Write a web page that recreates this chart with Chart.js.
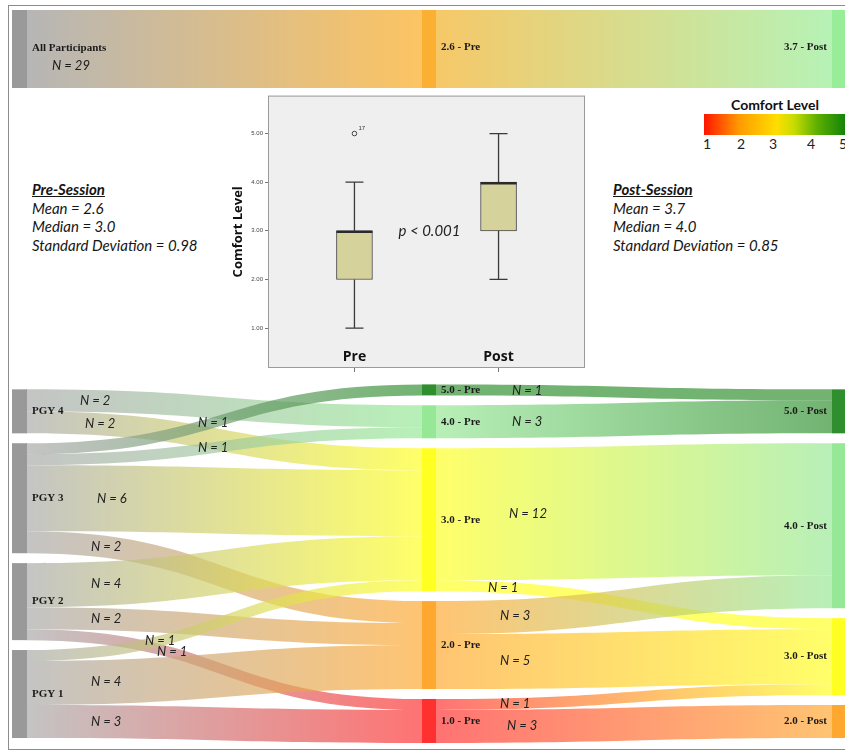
<!DOCTYPE html>
<html><head><meta charset="utf-8">
<script src="https://cdn.jsdelivr.net/npm/chart.js@4.4.1/dist/chart.umd.min.js"></script>
<style>
body{margin:0;background:#fff;width:845px;height:751px;overflow:hidden;position:relative;font-family:Lato,'Noto Sans',sans-serif;}
canvas{position:absolute;}
#frame{position:absolute;left:8px;top:5px;width:860px;height:743px;border:1px solid #8c8c8c;}
.stat{position:absolute;font-style:italic;font-size:15px;line-height:18.7px;color:#151515;white-space:nowrap;}
.stat .h{font-weight:bold;text-decoration:underline;}
#cbTitle{position:absolute;left:704px;top:96px;width:142px;text-align:center;font-weight:bold;font-size:14px;color:#111;}
#cbBar{position:absolute;left:704px;top:114px;width:145px;height:21px;background:linear-gradient(to right,#ff1500 0%,#ff9a00 24%,#ffde00 50%,#c8dc00 62%,#5cb000 78%,#0a7d0a 100%);}
.cbt{position:absolute;top:135px;font-size:14px;color:#222;transform:translateX(-50%);}
</style></head><body>
<div id="frame"></div>
<canvas id="top" width="845" height="95" style="left:0;top:0"></canvas>
<canvas id="low" width="845" height="371" style="left:0;top:380px"></canvas>
<canvas id="box" width="360" height="285" style="left:228px;top:90px"></canvas>
<div id="preStats" class="stat" style="left:32px;top:180px"></div>
<div id="postStats" class="stat" style="left:613px;top:180px"></div>
<div id="cbTitle"></div>
<div id="cbBar"></div>
<div id="cbTicks"></div>
<script>
// ---------------- DATA ----------------
const totalN = 29;
const overallPreMean = 2.6;
const overallPostMean = 3.7;
const groups = ['PGY 4','PGY 3','PGY 2','PGY 1'];
const preLevels = ['5.0 - Pre','4.0 - Pre','3.0 - Pre','2.0 - Pre','1.0 - Pre'];
const postLevels = ['5.0 - Post','4.0 - Post','3.0 - Post','2.0 - Post'];
const preScores = [5,4,3,2,1];
const postScores = [5,4,3,2];
// group -> pre-session level
const grpLinkFrom = [0,0,1,1,1,1,2,2,2,3,3,3];
const grpLinkTo   = [1,2,0,1,2,3,2,3,4,2,3,4];
const grpLinkN    = [2,2,1,1,6,2,4,2,1,1,4,3];
// pre-session level -> post-session level
const preLinkFrom = [0,1,2,2,3,3,4,4];
const preLinkTo   = [0,0,1,2,1,2,2,3];
const preLinkN    = [1,3,12,1,3,5,1,3];
// box plot
const boxCategories = ['Pre','Post'];
const boxMin    = [1,2];
const boxQ1     = [2,3];
const boxMedian = [3,4];
const boxQ3     = [3,4];
const boxMax    = [4,5];
const outlierValue = [5,null];
const outlierId    = ['17',null];
const boxAxisTicks = [1,2,3,4,5];
const pValueText = 'p < 0.001';
const preStatsTitle = 'Pre-Session';
const preStatsLines = ['Mean = 2.6','Median = 3.0','Standard Deviation = 0.98'];
const postStatsTitle = 'Post-Session';
const postStatsLines = ['Mean = 3.7','Median = 4.0','Standard Deviation = 0.85'];
const colorbarTitle = 'Comfort Level';
const colorbarTicks = [1,2,3,4,5];

// ---------------- STYLE / LAYOUT ----------------
const scoreColor = {5:[47,143,47],4:[150,232,150],3:[255,255,34],2:[255,168,48],1:[255,48,48]};
const groupColor = [153,153,153];
const flowGrey = [168,168,168];
const FLOW_ALPHA = 0.68;
const NODE_W = 14;
const GAP = 0.9;
const LOW_YMAX = 33.73, LOW_CENTER = 16.7;
const grpLabelX = [80,85,198,198,97,91,91,91,157,145,91,91];
const preLabelX = [512,512,509,488,500,500,500,507];
const cbTickX = [707,741,773,811,843];
const nodeFont = 'bold 11px "Liberation Serif", serif';
const nFont = 'italic 13px Lato, sans-serif';

const rgba = (c,a)=>`rgba(${c[0]},${c[1]},${c[2]},${a})`;
const rgb = c=>`rgb(${c[0]},${c[1]},${c[2]})`;

function drawBand(ctx,x0,x1,a0,b0,a1,b1,c0,c1){
  const xm=(x0+x1)/2;
  const g=ctx.createLinearGradient(x0,0,x1,0);
  g.addColorStop(0,c0); g.addColorStop(1,c1);
  ctx.beginPath();
  ctx.moveTo(x0,a0);
  ctx.bezierCurveTo(xm,a0,xm,a1,x1,a1);
  ctx.lineTo(x1,b1);
  ctx.bezierCurveTo(xm,b1,xm,b0,x0,b0);
  ctx.closePath();
  ctx.fillStyle=g; ctx.fill();
}
function curveYAt(x0,x1,ya,yb,x){
  const xm=(x0+x1)/2; let best=0,bd=1e9;
  for(let i=0;i<=400;i++){const t=i/400,mt=1-t;
    const bx=mt*mt*mt*x0+3*mt*mt*t*xm+3*mt*t*t*xm+t*t*t*x1;
    const d=Math.abs(bx-x); if(d<bd){bd=d;best=t;}}
  const t=best,mt=1-t;
  return mt*mt*mt*ya+3*mt*mt*t*ya+3*mt*t*t*yb+t*t*t*yb;
}
function sumBy(idx,vals,n){const r=new Array(n).fill(0); idx.forEach((k,i)=>r[k]+=vals[i]); return r;}
function column(totals){
  const span=totals.reduce((a,b)=>a+b,0)+GAP*(totals.length-1);
  let y=LOW_CENTER-span/2;
  return totals.map(v=>{const n={y0:y,y1:y+v,inO:0,outO:0}; y+=v+GAP; return n;});
}

const blankScales = (ymax)=>({
  x:{type:'linear',min:0,max:2,display:false},
  y:{type:'linear',min:0,max:ymax,reverse:true,display:false}
});

// ---------------- TOP BAND ----------------
const topPlugin={id:'topBand',afterDraw(chart){
  const {ctx,scales:{x,y}}=chart;
  const X=[0,1,2].map(i=>x.getPixelForValue(i));
  const t=y.getPixelForValue(0), b=y.getPixelForValue(totalN);
  drawBand(ctx,X[0]+NODE_W,X[1],t,b,t,b,'rgb(182,182,182)','rgb(252,196,98)');
  drawBand(ctx,X[1]+NODE_W,X[2],t,b,t,b,'rgb(246,200,104)','rgb(182,242,182)');
  ctx.fillStyle='#9a9a9a'; ctx.fillRect(X[0],t,NODE_W+1,b-t);
  ctx.fillStyle='#fbb034'; ctx.fillRect(X[1],t,NODE_W,b-t);
  ctx.fillStyle='#98ee98'; ctx.fillRect(X[2],t,NODE_W+2,b-t);
  const c=(t+b)/2;
  ctx.fillStyle='#1a1a1a'; ctx.font=nodeFont; ctx.textBaseline='middle';
  ctx.textAlign='left';
  ctx.fillText('All Participants',X[0]+NODE_W+6,c-1);
  ctx.fillText(overallPreMean.toFixed(1)+' - Pre',X[1]+NODE_W+5,c-2);
  ctx.textAlign='right';
  ctx.fillText(overallPostMean.toFixed(1)+' - Post',X[2]-5,c-2);
  ctx.textAlign='left'; ctx.font=nFont;
  ctx.fillText('N = '+totalN,X[0]+NODE_W+26,c+17);
}};
new Chart(document.getElementById('top'),{
  type:'scatter',data:{datasets:[{data:[]}]},
  options:{responsive:false,animation:false,events:[],
    layout:{padding:{left:12,right:13,top:10,bottom:7}},
    plugins:{legend:{display:false},tooltip:{enabled:false}},
    scales:blankScales(totalN)},
  plugins:[topPlugin]
});

// ---------------- LOWER SANKEY ----------------
const lowPlugin={id:'lowSankey',afterDraw(chart){
  const {ctx,scales:{x,y}}=chart;
  const X=[0,1,2].map(i=>x.getPixelForValue(i));
  const P=v=>y.getPixelForValue(v);
  const gN=column(sumBy(grpLinkFrom,grpLinkN,groups.length));
  const pN=column(sumBy(grpLinkTo,grpLinkN,preLevels.length));
  const qN=column(sumBy(preLinkTo,preLinkN,postLevels.length));
  const labels=[];
  grpLinkN.forEach((n,i)=>{
    const s=gN[grpLinkFrom[i]], t=pN[grpLinkTo[i]];
    const a0=s.y0+s.outO; s.outO+=n; const a1=t.y0+t.inO; t.inO+=n;
    const x0=X[0]+NODE_W, x1=X[1];
    const tc=scoreColor[preScores[grpLinkTo[i]]];
    drawBand(ctx,x0,x1,P(a0),P(a0+n),P(a1),P(a1+n),rgba(flowGrey,FLOW_ALPHA),rgba(tc,FLOW_ALPHA));
    labels.push({x:grpLabelX[i],y:curveYAt(x0,x1,P(a0+n/2),P(a1+n/2),grpLabelX[i]+14),text:'N = '+n});
  });
  preLinkN.forEach((n,i)=>{
    const s=pN[preLinkFrom[i]], t=qN[preLinkTo[i]];
    const a0=s.y0+s.outO; s.outO+=n; const a1=t.y0+t.inO; t.inO+=n;
    const x0=X[1]+NODE_W, x1=X[2];
    const sc=scoreColor[preScores[preLinkFrom[i]]], tc=scoreColor[postScores[preLinkTo[i]]];
    drawBand(ctx,x0,x1,P(a0),P(a0+n),P(a1),P(a1+n),rgba(sc,FLOW_ALPHA),rgba(tc,FLOW_ALPHA));
    labels.push({x:preLabelX[i],y:curveYAt(x0,x1,P(a0+n/2),P(a1+n/2),preLabelX[i]+14),text:'N = '+n});
  });
  // nodes
  gN.forEach(n=>{ctx.fillStyle=rgb(groupColor); ctx.fillRect(X[0],P(n.y0),NODE_W+1,P(n.y1)-P(n.y0));});
  pN.forEach((n,i)=>{ctx.fillStyle=rgb(scoreColor[preScores[i]]); ctx.fillRect(X[1],P(n.y0),NODE_W,P(n.y1)-P(n.y0));});
  qN.forEach((n,i)=>{ctx.fillStyle=rgb(scoreColor[postScores[i]]); ctx.fillRect(X[2],P(n.y0),NODE_W+2,P(n.y1)-P(n.y0));});
  // node labels
  ctx.fillStyle='#1a1a1a'; ctx.font=nodeFont; ctx.textBaseline='middle';
  ctx.textAlign='left';
  gN.forEach((n,i)=>ctx.fillText(groups[i],X[0]+NODE_W+6,P((n.y0+n.y1)/2)));
  pN.forEach((n,i)=>ctx.fillText(preLevels[i],X[1]+NODE_W+5,P((n.y0+n.y1)/2)));
  ctx.textAlign='right';
  qN.forEach((n,i)=>ctx.fillText(postLevels[i],X[2]-5,P((n.y0+n.y1)/2)));
  ctx.textAlign='left'; ctx.font=nFont; ctx.fillStyle='#222';
  labels.forEach(l=>ctx.fillText(l.text,l.x,l.y));
}};
new Chart(document.getElementById('low'),{
  type:'scatter',data:{datasets:[{data:[]}]},
  options:{responsive:false,animation:false,events:[],
    layout:{padding:{left:12,right:13,top:0,bottom:0}},
    plugins:{legend:{display:false},tooltip:{enabled:false}},
    scales:blankScales(LOW_YMAX)},
  plugins:[lowPlugin]
});

// ---------------- BOX PLOT ----------------
const boxPlugin={id:'boxExtras',
  beforeDraw(chart){
    const {ctx,chartArea:a}=chart;
    ctx.save(); ctx.fillStyle='#efefef'; ctx.fillRect(a.left,a.top,a.right-a.left,a.bottom-a.top); ctx.restore();
  },
  afterDatasetsDraw(chart){
    const {ctx,chartArea:a,scales:{x,y}}=chart;
    ctx.save();
    ctx.strokeStyle='#9a9a9a'; ctx.lineWidth=1;
    ctx.strokeRect(a.left+0.5,a.top+0.5,a.right-a.left-1,a.bottom-a.top-1);
    boxCategories.forEach((c,i)=>{
      const cx=x.getPixelForValue(i+1);
      ctx.strokeStyle='#3a3a3a'; ctx.lineWidth=1.3;
      ctx.beginPath();
      ctx.moveTo(cx,y.getPixelForValue(boxQ3[i])); ctx.lineTo(cx,y.getPixelForValue(boxMax[i]));
      ctx.moveTo(cx,y.getPixelForValue(boxQ1[i])); ctx.lineTo(cx,y.getPixelForValue(boxMin[i]));
      ctx.moveTo(cx-9,y.getPixelForValue(boxMax[i])); ctx.lineTo(cx+9,y.getPixelForValue(boxMax[i]));
      ctx.moveTo(cx-9,y.getPixelForValue(boxMin[i])); ctx.lineTo(cx+9,y.getPixelForValue(boxMin[i]));
      ctx.stroke();
      ctx.strokeStyle='#2a2a2a'; ctx.lineWidth=2.5;
      ctx.beginPath(); const my=y.getPixelForValue(boxMedian[i])+1;
      ctx.moveTo(cx-18,my); ctx.lineTo(cx+18,my); ctx.stroke();
      if(outlierValue[i]!==null){
        const oy=y.getPixelForValue(outlierValue[i]);
        ctx.lineWidth=1; ctx.strokeStyle='#444';
        ctx.beginPath(); ctx.arc(cx,oy,2.3,0,Math.PI*2); ctx.stroke();
        ctx.fillStyle='#333'; ctx.font='6px Arial'; ctx.textAlign='left'; ctx.textBaseline='middle';
        ctx.fillText(outlierId[i],cx+4,oy-5);
      }
      ctx.fillStyle='#111'; ctx.font='bold 14px "Open Sans", sans-serif'; ctx.textAlign='center'; ctx.textBaseline='middle';
      ctx.fillText(c,cx,a.bottom-11);
    });
    ctx.fillStyle='#222'; ctx.font='italic 15px Lato, sans-serif'; ctx.textAlign='center'; ctx.textBaseline='middle';
    ctx.fillText(pValueText,x.getPixelForValue(1.5)+3,y.getPixelForValue(3));
    ctx.restore();
  }};
new Chart(document.getElementById('box'),{
  type:'bar',
  data:{datasets:[{data:boxCategories.map((c,i)=>({x:i+1,y:[boxQ1[i],boxQ3[i]]})),
    backgroundColor:'#d6d29c',borderColor:'#4a4a4a',borderWidth:1,borderSkipped:false,barThickness:36}]},
  options:{responsive:false,animation:false,events:[],
    layout:{padding:{left:2,right:3,top:5,bottom:0}},
    plugins:{legend:{display:false},tooltip:{enabled:false}},
    scales:{
      x:{type:'linear',min:0.4,max:2.6,offset:false,
        afterBuildTicks:s=>{s.ticks=[1,2].map(v=>({value:v}));},
        afterFit:s=>{s.height=7;},
        ticks:{display:false},
        grid:{offset:false,drawOnChartArea:false,tickLength:4,color:'#777'},border:{display:false}},
      y:{type:'linear',min:0.18,max:5.78,
        afterBuildTicks:s=>{s.ticks=boxAxisTicks.map(v=>({value:v}));},
        afterFit:s=>{s.width=38;},
        ticks:{font:{size:6,family:'Arial'},color:'#444',padding:2,callback:v=>Number(v).toFixed(2)},
        grid:{drawOnChartArea:false,tickLength:3,color:'#777'},border:{display:false},
        title:{display:true,text:'Comfort Level',font:{size:13,weight:'bold',family:'"Open Sans", sans-serif'},color:'#111',padding:{top:0,bottom:4}}}
    }},
  plugins:[boxPlugin]
});

// ---------------- TEXT BLOCKS ----------------
function fillStats(id,title,lines){
  const el=document.getElementById(id);
  const h=document.createElement('div'); h.className='h'; h.textContent=title; el.appendChild(h);
  lines.forEach(t=>{const d=document.createElement('div'); d.textContent=t; el.appendChild(d);});
}
fillStats('preStats',preStatsTitle,preStatsLines);
fillStats('postStats',postStatsTitle,postStatsLines);
document.getElementById('cbTitle').textContent=colorbarTitle;
const cbT=document.getElementById('cbTicks');
colorbarTicks.forEach((v,i)=>{const s=document.createElement('div'); s.className='cbt'; s.style.left=cbTickX[i]+'px'; s.textContent=v; cbT.appendChild(s);});
</script>
</body></html>
